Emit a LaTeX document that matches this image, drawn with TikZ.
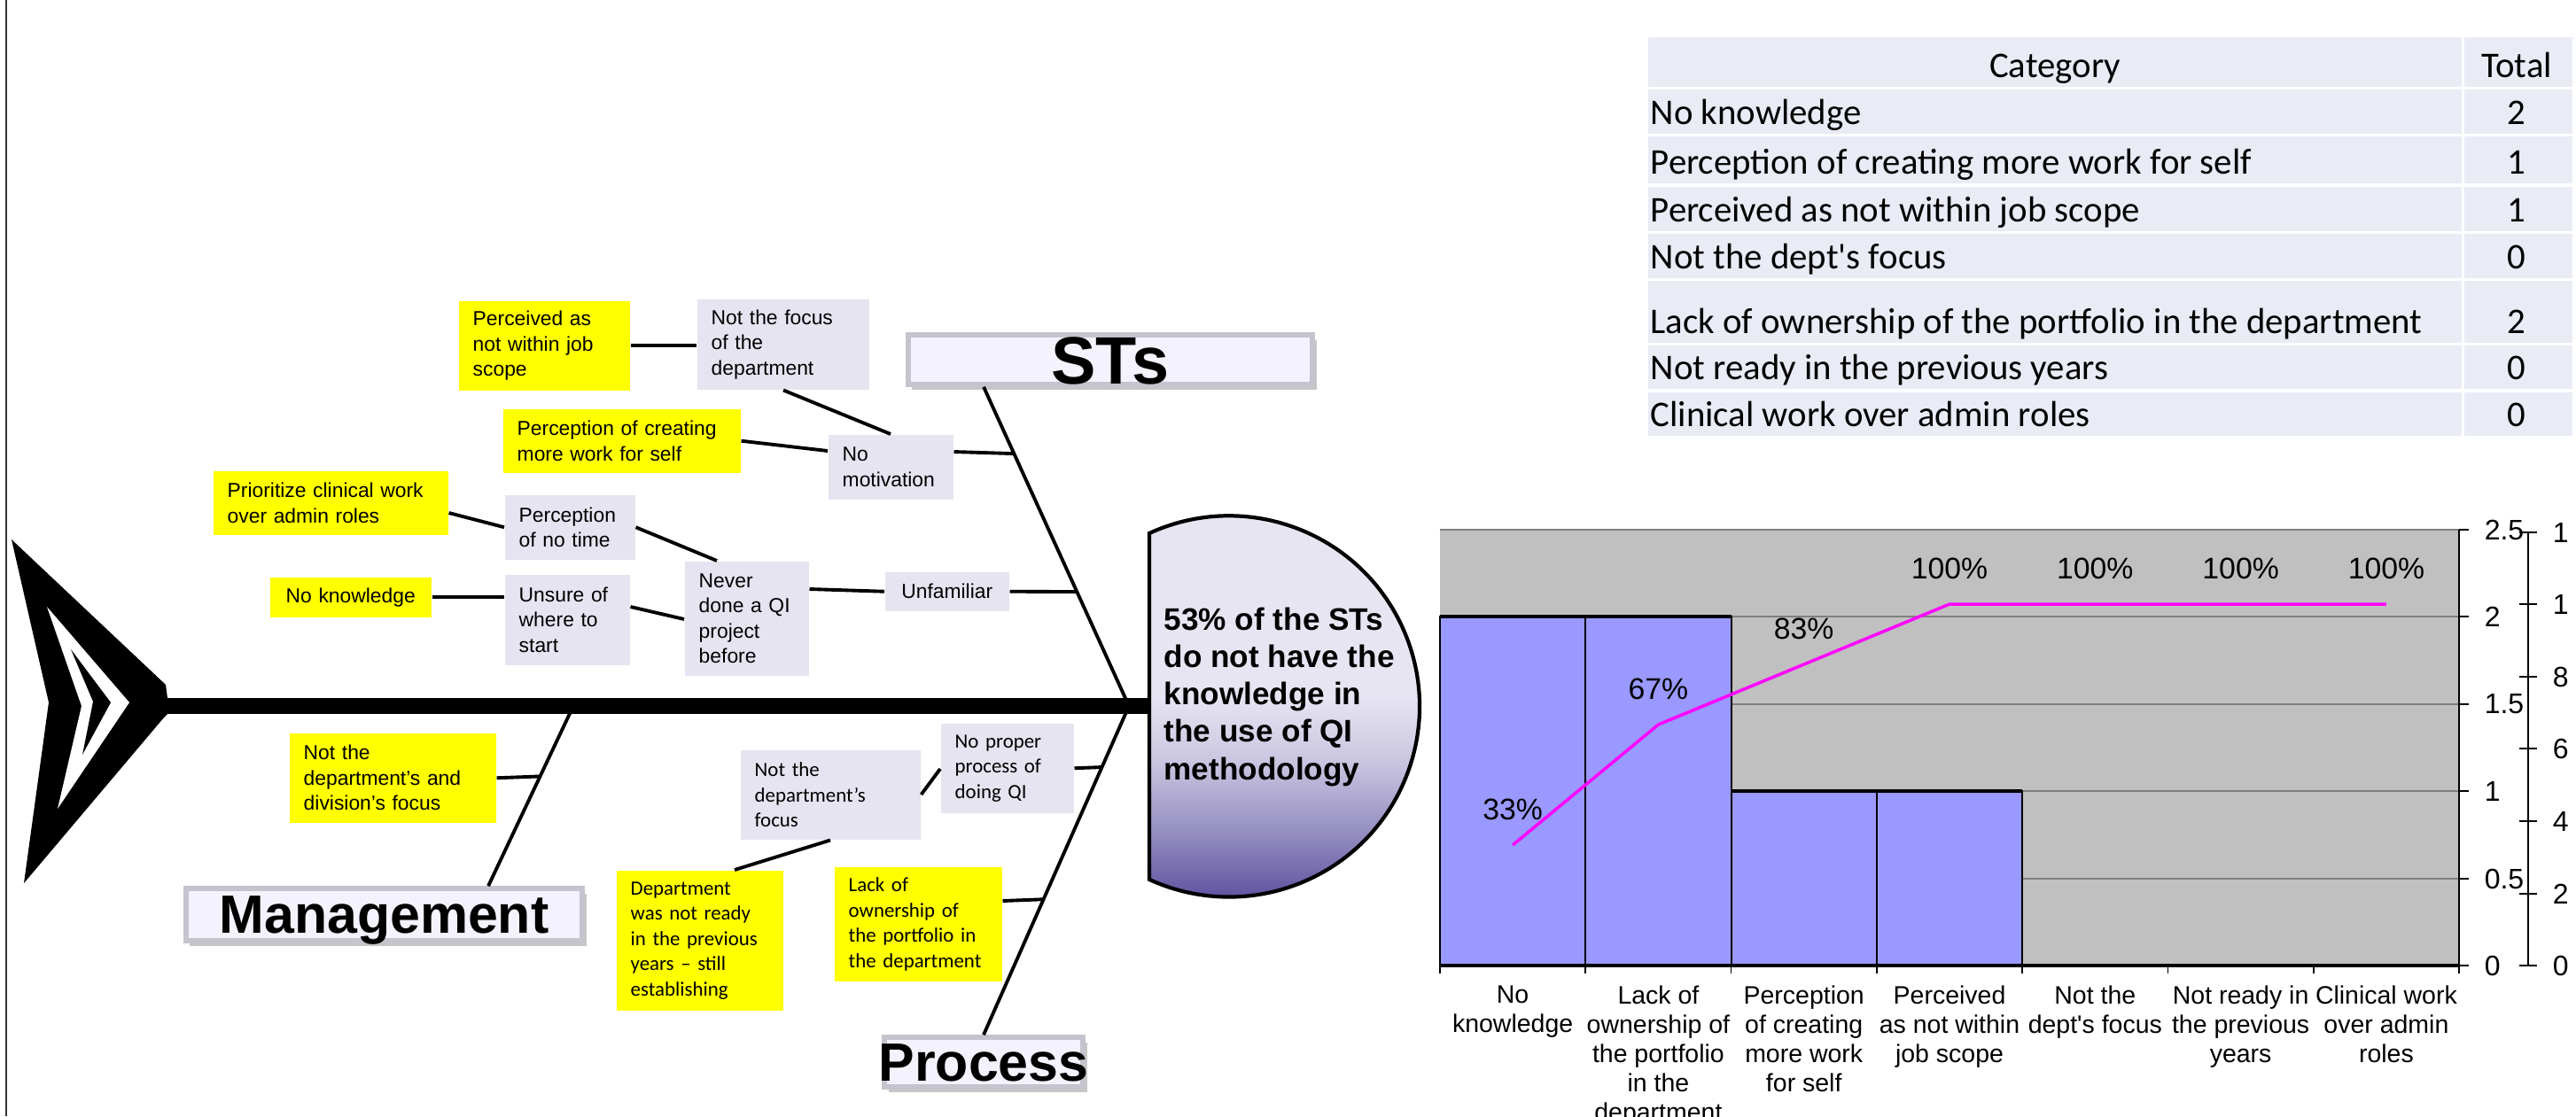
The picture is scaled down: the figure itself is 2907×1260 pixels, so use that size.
\documentclass[tikz,border=0pt]{standalone}
\usepackage{fontspec}
\setmainfont{Liberation Sans}
\newfontfamily\calfont{Carlito}
\usetikzlibrary{calc,shadows}

\definecolor{yel}{HTML}{FFFF00}
\definecolor{lav}{HTML}{E5E4F0}
\definecolor{tabc}{HTML}{E9EBF5}
\definecolor{plotbg}{HTML}{C0C0C0}
\definecolor{barc}{HTML}{9999FF}
\definecolor{gridc}{HTML}{7F7F7F}
\definecolor{pareto}{HTML}{FF00FF}
\definecolor{headlt}{HTML}{E7E5F2}
\definecolor{headsoft}{HTML}{C9C5E0}
\definecolor{headmid}{HTML}{9791C2}
\definecolor{headdk}{HTML}{5B4F9E}
\definecolor{lface}{HTML}{F3F2FD}
\definecolor{lbevel}{HTML}{C4C4CE}

% head fill: pale over the upper half, turning purple towards the bottom
\pgfdeclareverticalshading{headshade}{100bp}{color(0bp)=(headdk); color(25bp)=(headdk);
  color(34bp)=(headmid); color(42bp)=(headsoft); color(50bp)=(headlt); color(100bp)=(headlt)}

\newcommand\fsBox{\fontsize{6.5pt}{8.1pt}\selectfont}
\newcommand\fsHead{\fontsize{10pt}{12pt}\selectfont\bfseries}
\newcommand\fsLbl{\fontsize{17.3pt}{20pt}\selectfont\bfseries}
\newcommand\fsBig{\fontsize{21.5pt}{24pt}\selectfont\bfseries}
\newcommand\fsTab{\calfont\fontsize{11.6pt}{13pt}\selectfont}
\newcommand\fsData{\fontsize{9.6pt}{11pt}\selectfont}
\newcommand\fsAxis{\fontsize{9.1pt}{11pt}\selectfont}
\newcommand\fsCat{\fontsize{8.1pt}{9.4pt}\selectfont}

\begin{document}
\begin{tikzpicture}[x=0.01cm,y=-0.01cm,
  bone/.style={line width=1.1pt},
  twig/.style={line width=1.1pt},
  cbox/.style={inner xsep=0.16cm, inner ysep=0pt, align=left, anchor=north west, font=\fsBox},
  ybox/.style={cbox, fill=yel},
  gbox/.style={cbox, fill=lav},
  calib/.style={font=\calfont\fsBox},
  lbl/.style={fill=lface, draw=lbevel, line width=1.6pt, inner sep=0pt, font=\fsLbl,
    text height=12.2pt, text depth=0pt,
    drop shadow={shadow xshift=1.3pt, shadow yshift=-1.6pt, opacity=0.45}},
  tabtxt/.style={font=\fsTab, inner sep=0pt},
  datalbl/.style={font=\fsData, inner sep=0pt},
  axlbl/.style={font=\fsAxis, inner sep=0pt, anchor=west},
  catlbl/.style={font=\fsCat, inner sep=0pt, anchor=north, align=center}
]
\useasboundingbox (0,0) rectangle (2907,1260);
\clip (0,0) rectangle (2907,1260);

% frame edge on the left
\draw[line width=0.6pt, black!80] (7,0) -- (7,1260);

% ---------------- fishbone ----------------
% tail
\fill (13,609) -- (187,773) -- (189,788) -- (189,806) -- (185,810) -- (27,997) -- (55,793) -- cycle;
\fill[white] (53,685) -- (146,793) -- (65,913) -- (92,797) -- cycle;
\fill (80,733) -- (125,793) -- (93,852) -- (105,792) -- cycle;

% spine
\coordinate (tailend) at (186,797);
\coordinate (hd) at (1297,797);
\draw[line width=0.18cm] (tailend) -- (hd);

% head
\shadedraw[shading=headshade, line width=1.2pt]
  (1297,602) arc[start angle=114.7, end angle=-114.7, radius=2.15cm] -- cycle;
\node[font=\fsHead, align=left, inner sep=0pt, anchor=north west] (head) at (1313,685)
  {53\% of the STs\\do not have the\\knowledge in\\the use of QI\\methodology};

% category labels
\node[lbl, font=\fsBig, text height=15.4pt, minimum width=4.56cm, minimum height=0.56cm] (sts) at (1253,406) {STs};
\node[lbl, minimum width=4.47cm, minimum height=0.59cm] (mgmt) at (433.5,1032.5) {Management};
\node[lbl, minimum width=2.24cm, minimum height=0.56cm] (proc) at (1110,1199) {\makebox[0pt]{Process}};

% main bones
\coordinate (J) at (1274,797);
\coordinate (sb) at ($(sts.south west)+(88,0)$);
\draw[bone] (sb) -- (J);
\draw[bone] (J) -- (proc.north);
\coordinate (mj) at (647,797);
\coordinate (mb) at ($(mgmt.north west)+(344,0)$);
\draw[bone] (mj) -- (mb);

\coordinate (b1) at ($(sb)!0.209!(J)$);
\coordinate (b2) at ($(sb)!0.642!(J)$);
\coordinate (b3) at ($(mj)!0.391!(mb)$);
\coordinate (b4) at ($(J)!0.186!(proc.north)$);
\coordinate (b5) at ($(J)!0.588!(proc.north)$);

% cause boxes
\node[ybox, minimum width=1.93cm, minimum height=1.01cm, text width=1.61cm] (y1) at (517,339) {Perceived as\\not within job\\scope};
\node[gbox, minimum width=1.94cm, minimum height=1.02cm, text width=1.62cm] (g1) at (786,337) {Not the focus\\of the\\department};
\node[ybox, minimum width=2.68cm, minimum height=0.72cm, text width=2.36cm] (y2) at (567,461) {Perception of creating\\more work for self};
\node[ybox, minimum width=2.65cm, minimum height=0.72cm, text width=2.33cm] (y3) at (240,531) {Prioritize clinical work\\over admin roles};
\node[gbox, minimum width=1.47cm, minimum height=0.73cm, text width=1.15cm] (g2) at (569,558) {Perception\\of no time};
\node[ybox, align=center, minimum width=1.82cm, minimum height=0.45cm, text width=1.50cm] (y4) at (304,651) {No knowledge};
\node[gbox, minimum width=1.41cm, minimum height=1.02cm, text width=1.09cm] (g3) at (569,648) {Unsure of\\where to\\start};
\node[gbox, minimum width=1.40cm, minimum height=1.29cm, text width=1.08cm] (g4) at (772,633) {Never\\done a QI\\project\\before};
\node[gbox, minimum width=1.41cm, minimum height=0.73cm, text width=1.09cm] (g5) at (934,490) {No\\motivation};
\node[gbox, align=center, minimum width=1.40cm, minimum height=0.44cm, text width=1.08cm] (g6) at (998,645) {Unfamiliar};
\node[ybox, minimum width=2.33cm, minimum height=1.01cm, text width=2.01cm] (y5) at (326,827) {Not the\\department’s and\\division’s focus};
\node[gbox, calib, minimum width=1.50cm, minimum height=1.01cm, text width=1.18cm] (g7) at (1061,816) {No proper\\process of\\doing QI};
\node[gbox, calib, minimum width=2.03cm, minimum height=1.01cm, text width=1.71cm] (g8) at (835,846) {Not the\\department’s\\focus};
\node[ybox, calib, minimum width=1.88cm, minimum height=1.58cm, text width=1.56cm] (y6) at (695,982) {Department\\was not ready\\in the previous\\years – still\\establishing};
\node[ybox, calib, minimum width=1.89cm, minimum height=1.29cm, text width=1.57cm] (y7) at (941,978) {Lack of\\ownership of\\the portfolio in\\the department};

% connectors between causes
\draw[twig] (y1.east) -- (y1.east -| g1.west);
\draw[twig] (y2.east) -- ($(g5.north west)+(0,19)$);
\draw[twig] ($(g1.south west)+(98,0)$) -- ($(g5.north west)+(71,0)$);
\draw[twig] ($(g5.north east)+(0,20)$) -- (b1);
\draw[twig] ($(y3.north east)+(0,48)$) -- (g2.west);
\draw[twig] (y4.east) -- (y4.east -| g3.west);
\draw[twig] (g2.east) -- ($(g4.north west)+(37,0)$);
\draw[twig] ($(g3.north east)+(0,37)$) -- ($(g4.north west)+(0,66)$);
\draw[twig] ($(g4.north east)+(0,32)$) -- (g6.west);
\draw[twig] (g6.east) -- (b2);
\draw[twig] (y5.east) -- (b3);
\draw[twig] (g7.east) -- (b4);
\draw[twig] ($(g8.north east)+(0,51)$) -- ($(g7.north west)+(0,52)$);
\draw[twig] ($(g8.south west)+(102,0)$) -- ($(y6.north west)+(134,0)$);
\draw[twig] ($(y7.north east)+(0,39)$) -- (b5);

% ---------------- table ----------------
\foreach \t/\b in {42/98,101/151,154/207,211/261,264/314,317/387,390/439,443/492}{
  \fill[tabc] (1860,\t) rectangle (2778,\b);
  \fill[tabc] (2781,\t) rectangle (2903,\b);
}
\node[tabtxt, anchor=base] (th1) at (2319,87) {Category};
\node[tabtxt, anchor=base] (th2) at (2840,87) {Total};
\node[tabtxt, anchor=base west] (tr1) at (1862,140) {No knowledge};
\node[tabtxt, anchor=base west] (tr2) at (1862,196) {Perception of creating more work for self};
\node[tabtxt, anchor=base west] (tr3) at (1862,250) {Perceived as not within job scope};
\node[tabtxt, anchor=base west] (tr4) at (1862,303) {Not the dept\textquotesingle s focus};
\node[tabtxt, anchor=base west] (tr5) at (1862,376) {Lack of ownership of the portfolio in the department};
\node[tabtxt, anchor=base west] (tr6) at (1862,428) {Not ready in the previous years};
\node[tabtxt, anchor=base west] (tr7) at (1862,481) {Clinical work over admin roles};
\node[tabtxt, anchor=base] (tv1) at (2840,140) {2};
\node[tabtxt, anchor=base] (tv2) at (2840,196) {1};
\node[tabtxt, anchor=base] (tv3) at (2840,250) {1};
\node[tabtxt, anchor=base] (tv4) at (2840,303) {0};
\node[tabtxt, anchor=base] (tv5) at (2840,376) {2};
\node[tabtxt, anchor=base] (tv6) at (2840,428) {0};
\node[tabtxt, anchor=base] (tv7) at (2840,481) {0};

% ---------------- Pareto chart ----------------
\fill[plotbg] (1625,598) rectangle (2775,1090);
\foreach \y in {598,696,795,893,992}
  \draw[gridc, line width=0.6pt] (1625,\y) -- (2775,\y);
% bars
\draw[fill=barc, line width=0.5pt] (1625,1090) rectangle (1789.3,696);
\draw[fill=barc, line width=0.5pt] (1789.3,1090) rectangle (1953.6,696);
\draw[fill=barc, line width=0.5pt] (1953.6,1090) rectangle (2117.9,893);
\draw[fill=barc, line width=0.5pt] (2117.9,1090) rectangle (2282.1,893);
\draw[line width=1pt] (1625,696) -- (1953.6,696);
\draw[line width=1pt] (1953.6,893) -- (2282.1,893);
% category axis
\draw[line width=1pt] (1625,1090) -- (2775,1090);
\foreach \i in {0,...,7}
  \draw[line width=0.5pt] ({1625+164.2857*\i},1090) -- ++(0,9);
% value axis
\draw[line width=0.6pt] (2775,598) -- (2775,1090);
\foreach \y in {598,696,795,893,992,1090}
  \draw[line width=0.6pt] (2775,\y) -- (2786,\y);
\node[axlbl] (a25) at (2803,598) {2.5};
\node[axlbl] (a20) at (2803,696) {2};
\node[axlbl] (a15) at (2803,795) {1.5};
\node[axlbl] (a10) at (2803,893) {1};
\node[axlbl] (a05) at (2803,992) {0.5};
\node[axlbl] (a00) at (2803,1090) {0};
% percentage axis
\draw[line width=0.6pt] (2853,601) -- (2853,1090);
\foreach \y in {601,682,764,845,927,1009,1090}
  \draw[line width=0.6pt] (2843,\y) -- (2863,\y);
\node[axlbl] (p6) at (2880,601) {1};
\node[axlbl] (p5) at (2880,682) {1};
\node[axlbl] (p4) at (2880,764) {8};
\node[axlbl] (p3) at (2880,845) {6};
\node[axlbl] (p2) at (2880,927) {4};
\node[axlbl] (p1) at (2880,1009) {2};
\node[axlbl] (p0) at (2880,1090) {0};
% cumulative line
\draw[pareto, line width=1pt] (1707.1,954) -- (1871.4,818) -- (2035.7,750) -- (2200,682)
  -- (2364.3,682) -- (2528.6,682) -- (2692.9,682);
\node[datalbl] (d1) at (1707.1,914) {33\%};
\node[datalbl] (d2) at (1871.4,778) {67\%};
\node[datalbl] (d3) at (2035.7,710) {83\%};
\node[datalbl] (d4) at (2200,642) {100\%};
\node[datalbl] (d5) at (2364.3,642) {100\%};
\node[datalbl] (d6) at (2528.6,642) {100\%};
\node[datalbl] (d7) at (2692.9,642) {100\%};
% category names
\node[catlbl] (c1) at (1707.1,1112) {No\\knowledge};
\node[catlbl] (c2) at (1871.4,1112) {Lack of\\ownership of\\the portfolio\\in the\\department};
\node[catlbl] (c3) at (2035.7,1112) {Perception\\of creating\\more work\\for self};
\node[catlbl] (c4) at (2200,1112) {Perceived\\as not within\\job scope};
\node[catlbl] (c5) at (2364.3,1112) {Not the\\dept\textquotesingle s focus};
\node[catlbl] (c6) at (2528.6,1112) {Not ready in\\the previous\\years};
\node[catlbl] (c7) at (2692.9,1112) {Clinical work\\over admin\\roles};
\end{tikzpicture}
\end{document}
